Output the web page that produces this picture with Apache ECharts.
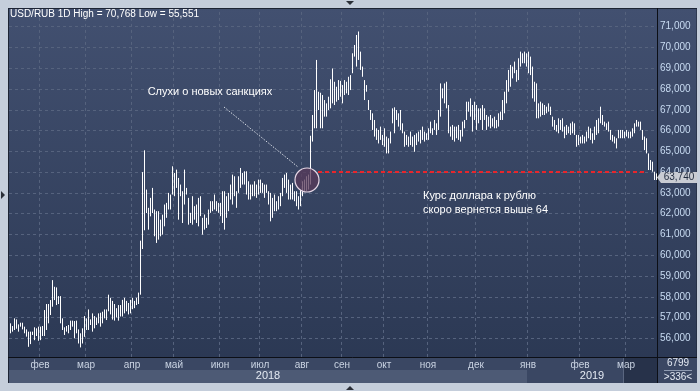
<!DOCTYPE html>
<html><head><meta charset="utf-8">
<script src="https://cdn.jsdelivr.net/npm/echarts@6/dist/echarts.min.js"></script>
<style>html,body{margin:0;padding:0;background:#c5cedb}#c{width:700px;height:391px}</style>
</head><body><div id="c"></div>
<script>
// ---- data (USD/RUB daily bars: low / high) ----
const lows = [
56.24,56.32,56.40,56.46,56.32,56.56,56.43,56.24,56.08,55.59,55.72,56.16,55.91,56.11,55.88,
55.91,56.11,56.11,56.40,56.72,57.12,57.52,57.84,57.60,57.65,56.72,56.40,56.16,56.32,56.24,56.40,56.56,56.00,56.24,55.75,55.56,55.75,56.07,
56.40,56.40,56.64,56.32,56.48,56.64,56.72,56.56,56.72,56.96,56.88,57.30,57.15,56.90,56.85,57.00,56.85,57.05,57.05,57.20,57.30,57.15,57.20,
57.40,57.45,57.60,57.65,58.10,60.30,61.20,62.03,61.23,61.87,62.03,60.91,60.59,60.75,60.91,60.99,61.39,61.80,62.20,62.20,62.92,
62.84,63.24,61.71,62.84,61.55,62.44,62.92,61.47,61.55,61.47,61.71,61.55,61.39,61.88,60.99,61.23,61.31,61.47,62.04,62.12,62.20,62.12,62.04,
61.88,61.55,61.23,61.80,62.12,62.68,62.44,62.84,62.28,63.00,63.24,63.40,63.40,62.92,62.68,62.68,62.84,62.84,62.76,62.92,
63.00,63.00,62.76,63.00,62.44,61.63,61.80,62.12,62.12,62.20,62.36,62.84,63.24,63.00,62.68,62.68,62.68,62.60,62.36,62.20,62.36,
62.84,63.08,63.08,63.16,63.40,65.47,66.11,66.11,66.99,66.11,66.11,66.67,66.67,66.99,67.07,67.31,67.23,67.39,67.47,67.63,
67.31,67.71,67.79,67.71,67.95,68.76,69.56,69.08,69.40,68.92,68.59,67.47,67.87,66.99,66.51,66.03,65.71,65.55,65.38,65.55,65.30,
65.22,64.90,64.90,65.38,66.35,65.87,66.51,66.19,66.03,65.87,65.22,65.30,65.22,65.30,65.22,64.98,65.30,65.47,65.38,65.55,65.47,65.55,
65.55,65.87,65.79,66.03,65.79,66.03,66.67,67.55,67.31,67.07,65.87,65.71,65.55,65.47,65.63,65.55,65.47,65.71,66.11,66.51,66.91,66.67,65.95,66.51,
66.03,66.35,66.51,66.03,66.51,66.03,66.19,66.11,66.19,66.11,66.11,66.19,66.51,66.51,66.83,67.31,67.87,68.11,68.51,68.76,68.35,68.43,69.08,69.24,69.24,69.08,
68.76,68.67,67.55,67.39,66.59,66.59,66.67,66.75,66.75,66.83,66.91,66.75,66.19,66.03,65.95,65.87,66.03,65.95,65.63,65.79,65.87,65.79,65.87,65.79,65.22,65.30,
65.38,65.38,65.38,65.47,65.63,65.55,65.38,65.55,65.79,65.87,66.35,66.27,66.19,66.03,65.95,65.55,65.47,65.38,65.14,65.63,65.63,65.63,65.63,
65.71,65.63,65.63,65.71,65.87,66.19,66.19,66.03,65.55,65.06,64.90,64.10,64.10,64.02,63.62,63.62
];
const highs = [
56.72,56.59,56.96,56.91,56.67,56.75,56.75,56.56,56.43,56.32,56.32,56.32,56.53,56.48,56.56,
56.56,56.59,57.36,57.65,57.65,57.84,58.80,58.48,58.45,58.03,58.03,56.96,56.53,56.59,56.64,56.85,56.85,56.83,56.85,56.43,56.24,56.48,57.07,
56.96,57.39,56.91,57.20,57.07,57.00,57.20,57.23,57.28,57.39,57.39,58.10,57.95,57.80,57.65,57.45,57.60,57.60,57.85,57.95,57.80,57.70,57.85,
57.95,57.80,57.95,58.20,60.70,64.00,65.05,63.16,62.28,62.76,63.24,62.20,62.12,62.12,61.71,61.95,62.44,62.52,63.00,62.92,64.28,
63.96,64.12,63.72,63.40,63.08,64.12,63.24,62.76,62.04,62.84,62.36,62.44,62.76,62.84,61.80,61.96,61.80,62.20,62.60,62.60,62.92,62.60,62.52,
62.52,63.08,63.08,62.84,63.00,63.40,63.88,63.80,63.08,63.80,64.20,63.96,64.04,64.04,63.56,63.40,63.40,63.56,63.40,63.64,
63.64,63.48,63.40,63.40,63.08,63.00,62.76,62.92,62.60,62.84,63.00,63.72,63.88,63.96,63.64,63.40,63.48,63.08,63.08,62.84,63.16,
63.56,63.64,63.80,63.88,65.75,66.75,67.95,69.40,67.87,67.82,67.71,67.47,67.31,67.63,68.47,68.99,68.35,68.11,68.43,68.39,
68.19,68.43,68.35,68.59,68.67,69.72,70.12,70.60,70.77,69.80,69.08,68.43,68.19,67.47,66.99,66.83,66.51,66.11,66.03,66.19,65.79,
66.11,65.71,65.63,65.95,67.07,67.12,66.99,66.83,66.99,66.35,65.95,65.79,65.71,65.95,65.71,65.79,65.87,65.95,66.03,66.19,65.95,65.87,
66.11,66.43,66.11,66.51,66.35,66.99,68.27,68.03,68.27,68.35,67.23,66.19,66.27,66.19,66.19,66.27,66.03,66.43,66.51,67.39,67.39,67.55,67.23,67.39,
67.23,67.07,67.07,67.23,67.07,66.75,66.67,66.75,66.59,66.67,66.51,66.83,66.91,67.47,67.87,68.43,68.92,69.16,69.08,69.32,68.92,69.48,69.80,69.72,69.80,69.72,
69.80,69.56,69.08,68.35,68.27,67.31,67.39,67.31,67.23,67.15,67.31,67.15,66.67,66.51,66.27,66.59,66.51,66.59,66.19,66.27,66.19,66.35,66.43,66.35,65.79,65.79,
65.71,65.79,65.71,65.95,66.19,66.11,65.87,66.19,66.51,66.59,67.15,66.75,66.43,66.35,66.43,66.03,65.79,65.71,65.63,66.03,66.03,66.03,65.95,
66.03,65.95,65.95,66.11,66.35,66.51,66.43,66.43,66.03,65.71,65.63,64.90,64.58,64.50,64.02,63.94
];
const monthLabels = ['фев','мар','апр','май','июн','июл','авг','сен','окт','ноя','дек','янв','фев','мар'];
const monthStart  = [15,38,61,82,105,125,146,166,187,209,233,259,285,308];
const yearLabels = ['2018','2019'];
const yMin = 55, yMax = 72, yStep = 1;
const lastClose = 63.740;
const targetLevel = 64.0;
const targetFrom = 154, targetTo = 318;
const rumorBar = 148.5, rumorLevel = 63.62;
const titleText = 'USD/RUB 1D High = 70,768 Low = 55,551';
const rumorText = 'Слухи о новых санкциях';
const forecastText = ['Курс доллара к рублю', 'скоро вернется выше 64'];
const footerTop = '6799', footerBottom = '>336<';

const FONT = '"Liberation Sans", Arial, sans-serif';
const categories = lows.map((_, i) => 'b' + i);
const barData = lows.map((l, i) => [i, l, highs[i]]);
const fmt = v => v.toFixed(3).replace('.', ',');

const chart = echarts.init(document.getElementById('c'), null, {renderer: 'canvas'});

const gridTop = 5.93, gridBottom = 31.93;

const baseGraphics = [
  {type:'rect', z:-10, shape:{x:8, y:8, width:689, height:375},
   style:{fill:new echarts.graphic.LinearGradient(0,0,0,1,[{offset:0,color:'#425070'},{offset:1,color:'#2a3752'}]), stroke:'#1d2434', lineWidth:1}},
];
const coverGraphics = [
  {type:'rect', z:50, shape:{x:0, y:0, width:700, height:8}, style:{fill:'#c5cedb'}},
  {type:'rect', z:50, shape:{x:0, y:383, width:700, height:8}, style:{fill:'#c5cedb'}},
  {type:'rect', z:50, shape:{x:0, y:0, width:8, height:391}, style:{fill:'#c5cedb'}},
  {type:'rect', z:50, shape:{x:697, y:0, width:3, height:391}, style:{fill:'#c5cedb'}},
  {type:'line', z:51, shape:{x1:8, y1:8.5, x2:697, y2:8.5}, style:{stroke:'#1d2434', lineWidth:1}},
  {type:'line', z:51, shape:{x1:8.5, y1:8, x2:8.5, y2:383}, style:{stroke:'#1d2434', lineWidth:1}},
  {type:'rect', z:50, shape:{x:9, y:358, width:648, height:12}, style:{fill:'#3a4763'}},
  {type:'rect', z:50, shape:{x:9, y:370, width:518, height:13}, style:{fill:'#4d5a75'}},
  {type:'rect', z:50, shape:{x:527, y:370, width:130, height:13}, style:{fill:'#3a4763'}},
  {type:'rect', z:51, shape:{x:623, y:358, width:34, height:25}, style:{fill:'#27324a'}},
  {type:'line', z:52, shape:{x1:623.5, y1:358, x2:623.5, y2:383}, style:{stroke:'#5a6680', lineWidth:1}},
  {type:'rect', z:50, shape:{x:658, y:358, width:39, height:25}, style:{fill:'#3a4763'}},
  {type:'line', z:52, shape:{x1:664, y1:370.5, x2:692, y2:370.5}, style:{stroke:'#8e9ab0', lineWidth:1}},
  {type:'line', z:53, shape:{x1:8, y1:357.5, x2:697, y2:357.5}, style:{stroke:'#0c0f16', lineWidth:1}},
  {type:'line', z:53, shape:{x1:657.5, y1:8, x2:657.5, y2:383}, style:{stroke:'#0c0f16', lineWidth:1}},
  {type:'polygon', z:54, shape:{points:[[346,1],[354,1],[350,5]]}, style:{fill:'#2b2f38'}},
  {type:'polygon', z:54, shape:{points:[[346,390],[354,390],[350,386]]}, style:{fill:'#2b2f38'}},
  {type:'polygon', z:54, shape:{points:[[1,191],[1,199],[5,195]]}, style:{fill:'#2b2f38'}},
  {type:'text', z:55, left:10, top:9.5, style:{text:titleText, fill:'#ffffff', font:'10px '+FONT}},
  {type:'text', z:55, x:210, y:92, style:{text:rumorText, fill:'#ffffff', font:'11px '+FONT, align:'center', verticalAlign:'middle'}},
  {type:'text', z:55, x:423, y:196, style:{text:forecastText[0], fill:'#ffffff', font:'11px '+FONT, align:'left', verticalAlign:'middle'}},
  {type:'text', z:55, x:423, y:209.5, style:{text:forecastText[1], fill:'#ffffff', font:'11px '+FONT, align:'left', verticalAlign:'middle'}},
  {type:'text', z:55, x:268, y:376, style:{text:yearLabels[0], fill:'#e4eaf3', font:'11px '+FONT, align:'center', verticalAlign:'middle'}},
  {type:'text', z:55, x:592, y:376, style:{text:yearLabels[1], fill:'#e4eaf3', font:'11px '+FONT, align:'center', verticalAlign:'middle'}},
  {type:'text', z:55, x:678, y:363.5, style:{text:footerTop, fill:'#e4eaf3', font:'10px '+FONT, align:'center', verticalAlign:'middle'}},
  {type:'text', z:55, x:678, y:377, style:{text:footerBottom, fill:'#e4eaf3', font:'10px '+FONT, align:'center', verticalAlign:'middle'}},
];

const option = {
  animation: false,
  backgroundColor: '#c5cedb',
  grid: {left: 9, right: 43, top: gridTop, bottom: gridBottom, containLabel: false},
  xAxis: [
    {type:'category', data: categories, boundaryGap: true, z: 0,
     axisLine:{show:false}, axisTick:{show:false}, axisLabel:{show:false},
     splitLine:{show:true, interval: (i) => monthStart.indexOf(i) >= 0,
                lineStyle:{color:'#56637e', type:[3,3], width:1}}},
    {type:'category', data: categories, boundaryGap: true, position:'bottom', z: 60,
     axisLine:{show:false}, axisTick:{show:false}, splitLine:{show:false},
     axisLabel:{show:true, interval: (i) => monthStart.indexOf(i) >= 0, margin: 1,
                formatter: (v, i) => { const k = monthStart.indexOf(i); return k >= 0 ? monthLabels[k] : ''; },
                color:'#c9d3e2', fontSize:10, fontFamily: FONT}}
  ],
  yAxis: {type:'value', position:'right', min:yMin, max:yMax, interval:yStep, scale:true, z: 0,
    axisLine:{show:false}, axisTick:{show:false},
    axisLabel:{show:true, margin:3, color:'#c8dbf2', fontSize:10, fontFamily:FONT,
               showMinLabel:false, showMaxLabel:false, formatter: fmt},
    splitLine:{show:true, lineStyle:{color:'#56637e', type:[3,3], width:1}}},
  series: [{
    type:'custom', xAxisIndex:0, yAxisIndex:0, z: 5,
    data: barData,
    encode:{x:0, y:[1,2]},
    renderItem: function(params, api){
      const p1 = api.coord([api.value(0), api.value(1)]);
      const p2 = api.coord([api.value(0), api.value(2)]);
      const px = Math.round(p1[0]) + 0.5;
      return {type:'line', shape:{x1:px, y1:p1[1], x2:px, y2:p2[1]}, style:{stroke:'#ffffff', lineWidth:1}};
    },
    markLine: {
      silent:true, symbol:['none','none'], label:{show:false},
      lineStyle:{color:'#e8262b', width:2, type:[4,3]},
      data:[[{coord:[categories[targetFrom], targetLevel]}, {coord:[categories[targetTo], targetLevel]}]]
    }
  }],
  graphic: {elements: baseGraphics.concat(coverGraphics)}
};
chart.setOption(option);

const cx = (chart.convertToPixel({xAxisIndex:0}, categories[Math.floor(rumorBar)]) + chart.convertToPixel({xAxisIndex:0}, categories[Math.ceil(rumorBar)])) / 2;
const cy = chart.convertToPixel({yAxisIndex:0}, rumorLevel);
const ty = chart.convertToPixel({yAxisIndex:0}, lastClose);
const extra = [
  {type:'circle', z:20, shape:{cx:cx, cy:cy, r:12}, style:{fill:'rgba(88,58,90,0.75)', stroke:'#e6d8e6', lineWidth:1.2}},
  {type:'line', z:20, shape:{x1:224, y1:107, x2:cx-9, y2:cy-13}, style:{stroke:'#d8dde6', lineWidth:1, lineDash:[1.5,1.5]}},
  {type:'polygon', z:56, shape:{points:[[657,ty],[661,ty-5.5],[697,ty-5.5],[697,ty+5.5],[661,ty+5.5]]}, style:{fill:'#c9ccd3'}},
  {type:'text', z:57, x:679, y:ty, style:{text:fmt(lastClose), fill:'#1f2a3d', font:'10px '+FONT, align:'center', verticalAlign:'middle'}}
];
chart.setOption({graphic:{elements: baseGraphics.concat(coverGraphics, extra)}}, {replaceMerge:['graphic']});
</script></body></html>
